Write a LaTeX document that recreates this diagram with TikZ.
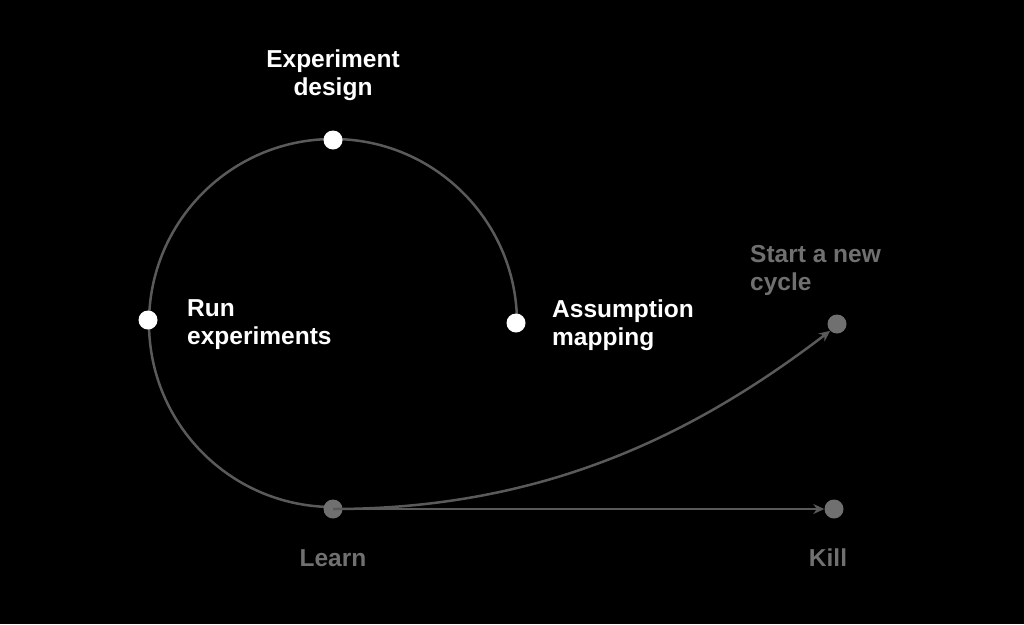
\documentclass[tikz,border=0pt]{standalone}
\usepackage{fontspec}
\setmainfont{Liberation Sans}
\usetikzlibrary{arrows.meta}
\definecolor{ln}{HTML}{5A5A5A}
\definecolor{gr}{HTML}{707070}
\begin{document}
\begin{tikzpicture}[x=1pt,y=-1pt,
  wdot/.style={circle,fill=white,inner sep=0pt,minimum size=19pt},
  gdot/.style={circle,fill=gr,inner sep=0pt,minimum size=19pt},
  lbl/.style={font=\bfseries\fontsize{24.5}{28}\selectfont,align=left,anchor=west,inner sep=0pt},
  conn/.style={draw=ln,line width=2.5pt},
  arr/.style={conn,-{Stealth[length=11pt,width=10pt]}}]
\fill[black] (0,0) rectangle (1024,624);
\draw[conn] (517,323) arc[start angle=0,end angle=-270,radius=184];
\node[wdot] (ed) at (333,140) {};
\node[wdot] (re) at (148,320) {};
\node[wdot] (am) at (516,323) {};
\node[gdot] (le) at (333,509) {};
\node[gdot] (sc) at (837,324) {};
\node[gdot] (ki) at (834,509) {};
\draw[arr] (le.center) .. controls (550,509) and (700,430) .. (sc.south west);
\draw[arr] (le.center) -- (ki.west);
\node[lbl,anchor=center,align=center,text=white] (t1) at (333,75) {Experiment\\design};
\node[lbl,text=white] (t2) at (187,325) {Run\\experiments};
\node[lbl,text=white] (t3) at (552,325) {Assumption\\mapping};
\node[lbl,text=gr] (t4) at (750,270) {Start a new\\cycle};
\node[lbl,anchor=center,text=gr] (t5) at (333,558) {Learn};
\node[lbl,anchor=center,text=gr] (t6) at (828,558) {Kill};
\end{tikzpicture}
\end{document}
